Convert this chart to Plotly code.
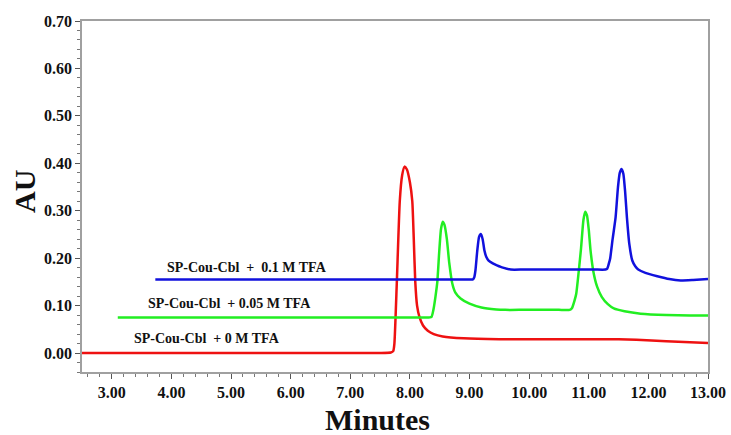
import plotly.graph_objects as go

# --- Data ---
red_t = [2.5, 4.0, 5.5, 7.0, 7.5, 7.68, 7.72, 7.74, 7.78, 7.83, 7.87, 7.91, 7.95, 8.00, 8.04, 8.065, 8.09,
         8.12, 8.16, 8.22, 8.30, 8.40, 8.55, 8.9, 9.5, 10.0, 10.5, 11.0, 11.5, 11.8, 12.3, 13.0]
red_au = [0.000, 0.000, 0.000, 0.000, 0.000, 0.001, 0.004, 0.020, 0.147, 0.320, 0.375, 0.393, 0.387,
          0.360, 0.320, 0.240, 0.150, 0.100, 0.076, 0.058, 0.047, 0.040, 0.035, 0.031, 0.029, 0.029,
          0.029, 0.029, 0.029, 0.028, 0.025, 0.021]

green_t = [3.1, 4.5, 6.0, 7.5, 8.0, 8.25, 8.36, 8.40, 8.43, 8.46, 8.49, 8.52, 8.55, 8.58, 8.62, 8.66,
           8.71, 8.76, 8.85, 9.0, 9.2, 9.45, 9.6, 9.9, 10.2, 10.5, 10.68, 10.72, 10.76, 10.79, 10.83,
           10.87, 10.91, 10.94, 10.97, 11.00, 11.03, 11.08, 11.14, 11.22, 11.32, 11.42, 11.6, 11.87,
           12.3, 12.7, 13.0]
green_au = [0.075, 0.075, 0.075, 0.075, 0.075, 0.075, 0.076, 0.095, 0.120, 0.150, 0.210, 0.260, 0.277,
            0.270, 0.240, 0.190, 0.147, 0.128, 0.115, 0.104, 0.096, 0.092, 0.091, 0.091, 0.091, 0.091,
            0.091, 0.095, 0.110, 0.125, 0.170, 0.220, 0.280, 0.298, 0.290, 0.260, 0.216, 0.170, 0.140,
            0.118, 0.103, 0.094, 0.088, 0.083, 0.080, 0.079, 0.079]

blue_t = [3.73, 5.0, 6.5, 8.0, 8.6, 8.9, 9.0, 9.05, 9.08, 9.10, 9.13, 9.16, 9.19, 9.22, 9.25, 9.28,
          9.32, 9.39, 9.46, 9.56, 9.69, 9.9, 10.2, 10.5, 10.8, 11.1, 11.28, 11.31, 11.34, 11.36, 11.40,
          11.45, 11.49, 11.52, 11.55, 11.58, 11.61, 11.64, 11.68, 11.73, 11.78, 11.83, 11.95, 12.15,
          12.35, 12.54, 12.75, 13.0]
blue_au = [0.155, 0.155, 0.155, 0.155, 0.155, 0.155, 0.155, 0.155, 0.160, 0.175, 0.216, 0.245, 0.251,
           0.240, 0.216, 0.203, 0.195, 0.189, 0.185, 0.180, 0.176, 0.176, 0.176, 0.176, 0.176, 0.176,
           0.176, 0.178, 0.190, 0.200, 0.240, 0.286, 0.350, 0.380, 0.388, 0.378, 0.340, 0.286, 0.230,
           0.195, 0.183, 0.176, 0.169, 0.162, 0.156, 0.153, 0.154, 0.156]

series_names = ["SP-Cou-Cbl  + 0 M TFA", "SP-Cou-Cbl  + 0.05 M TFA", "SP-Cou-Cbl  +  0.1 M TFA"]
series_colors = ["#ee1111", "#22ee22", "#1111dd"]

serif = "Liberation Serif"

fig = go.Figure()
for t, au, name, col in zip([red_t, green_t, blue_t], [red_au, green_au, blue_au], series_names, series_colors):
    fig.add_trace(go.Scatter(x=t, y=au, mode="lines", name=name,
                             line=dict(color=col, width=2.5, shape="spline", smoothing=0.5)))

label_pos = [(3.34, 0.031), (3.58, 0.105), (3.90, 0.181)]
for (lx, ly), name in zip(label_pos, series_names):
    fig.add_annotation(x=lx, y=ly, text="<b>" + name + "</b>", showarrow=False,
                       xanchor="left", yanchor="middle",
                       font=dict(family=serif, size=14, color="#111"))

# axis titles placed as paper annotations
fig.add_annotation(xref="paper", yref="paper", x=0.472, y=-0.135, text="<b>Minutes</b>",
                   showarrow=False, xanchor="center", yanchor="middle",
                   font=dict(family=serif, size=30, color="#111"))
fig.add_annotation(xref="paper", yref="paper", x=-0.091, y=0.513, text="<b>AU</b>",
                   showarrow=False, xanchor="center", yanchor="middle", textangle=-90,
                   font=dict(family=serif, size=30, color="#111"))

fig.update_layout(
    width=731, height=435,
    margin=dict(l=82, r=23, t=21, b=63),
    paper_bgcolor="white", plot_bgcolor="white",
    showlegend=False,
    font=dict(family=serif, color="black"),
)
fig.update_xaxes(
    range=[2.5, 13.0], tick0=3, dtick=1, tickformat=".2f", automargin=False,
    ticks="outside", ticklen=5, tickcolor="#555", tickwidth=1,
    minor=dict(dtick=0.2, ticks="outside", ticklen=3, tickcolor="#777"),
    showgrid=False, zeroline=False,
    showline=True, linecolor="#a0a0a0", linewidth=1.5, mirror=True,
    tickfont=dict(family=serif, size=16, color="#111", weight="bold"),
)
fig.update_yaxes(
    range=[-0.04, 0.70], tick0=0, dtick=0.1, tickformat=".2f", automargin=False,
    ticks="outside", ticklen=5, tickcolor="#555", tickwidth=1,
    minor=dict(dtick=0.02, ticks="outside", ticklen=3, tickcolor="#777"),
    showgrid=False, zeroline=False,
    showline=True, linecolor="#a0a0a0", linewidth=1.5, mirror=True,
    tickfont=dict(family=serif, size=16, color="#111", weight="bold"),
)

# remove the page's default body margin so the figure fills the window exactly
fig.write_html("out.html", config={"displayModeBar": False},
               post_script="document.body.style.margin='0';document.body.style.overflow='hidden';")
